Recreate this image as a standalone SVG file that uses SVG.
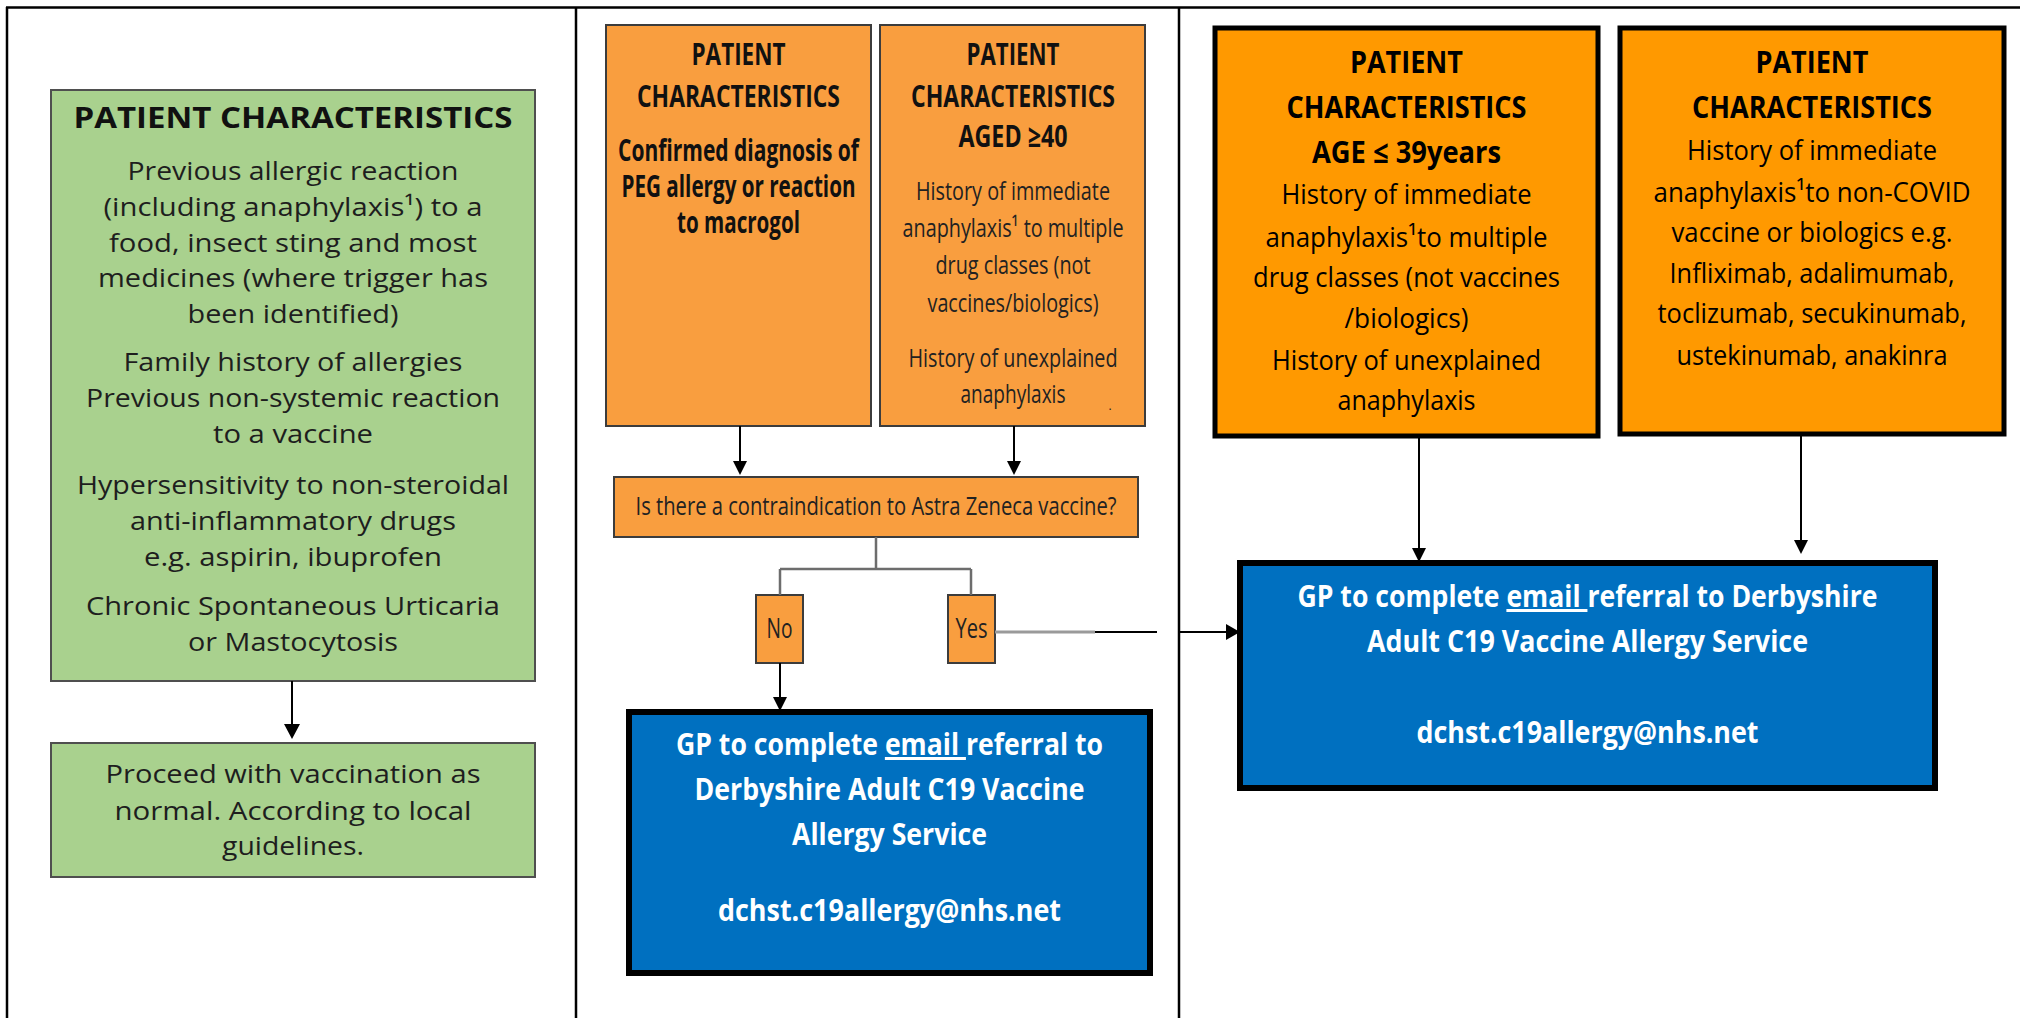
<svg xmlns="http://www.w3.org/2000/svg" width="2020" height="1018" viewBox="0 0 2020 1018">
<style>
text{font-family:"Open Sans","Noto Sans","DejaVu Sans",sans-serif;text-anchor:middle}
.g{font-size:26px;fill:#1e1e1e}
.gt{font-size:29px;font-weight:bold;fill:#111}
.ob{font-size:30px;font-weight:bold;fill:#111}
.or{font-size:26px;fill:#222}
.cb{font-size:30px;font-weight:bold;fill:#000}
.cr{font-size:28px;fill:#000}
.w{font-size:30px;font-weight:bold;fill:#fff}
.frame{stroke:#000;stroke-width:2.5;fill:none}
.green{fill:#a9d18e;stroke:#4f4f4f;stroke-width:2}
.org{fill:#f99e3f;stroke:#3c3c3c;stroke-width:2}
.org2{fill:#ff9900;stroke:#000;stroke-width:5}
.blue{fill:#0070c0;stroke:#000;stroke-width:6}
.ln{stroke:#000;stroke-width:2;fill:none}
.gl{stroke:#6d6d6d;stroke-width:2.5;fill:none}
</style>
<rect width="2020" height="1018" fill="#fff"/>
<g id="frame">
<path class="frame" d="M6 7.5H2020M7 7V1018M576 7V1018M1179 7V1018"/>
</g>
<g id="green1">
<rect class="green" x="51" y="90" width="484" height="591"/>
<text class="gt" x="293" y="128" textLength="439" lengthAdjust="spacingAndGlyphs">PATIENT CHARACTERISTICS</text>
<text class="g" x="293" y="180" textLength="331" lengthAdjust="spacingAndGlyphs">Previous allergic reaction</text>
<text class="g" x="293" y="216" textLength="379" lengthAdjust="spacingAndGlyphs">(including anaphylaxis¹) to a</text>
<text class="g" x="293" y="252" textLength="368" lengthAdjust="spacingAndGlyphs">food, insect sting and most</text>
<text class="g" x="293" y="287" textLength="390" lengthAdjust="spacingAndGlyphs">medicines (where trigger has</text>
<text class="g" x="293" y="323" textLength="211" lengthAdjust="spacingAndGlyphs">been identified)</text>
<text class="g" x="293" y="371" textLength="339" lengthAdjust="spacingAndGlyphs">Family history of allergies</text>
<text class="g" x="293" y="407" textLength="414" lengthAdjust="spacingAndGlyphs">Previous non-systemic reaction</text>
<text class="g" x="293" y="443" textLength="160" lengthAdjust="spacingAndGlyphs">to a vaccine</text>
<text class="g" x="293" y="494" textLength="432" lengthAdjust="spacingAndGlyphs">Hypersensitivity to non-steroidal</text>
<text class="g" x="293" y="530" textLength="326" lengthAdjust="spacingAndGlyphs">anti-inflammatory drugs</text>
<text class="g" x="293" y="566" textLength="298" lengthAdjust="spacingAndGlyphs">e.g. aspirin, ibuprofen</text>
<text class="g" x="293" y="615" textLength="414" lengthAdjust="spacingAndGlyphs">Chronic Spontaneous Urticaria</text>
<text class="g" x="293" y="651" textLength="210" lengthAdjust="spacingAndGlyphs">or Mastocytosis</text>
</g>
<g id="green2">
<rect class="green" x="51" y="743" width="484" height="134"/>
<text class="g" x="293" y="783" textLength="375" lengthAdjust="spacingAndGlyphs">Proceed with vaccination as</text>
<text class="g" x="293" y="820" textLength="357" lengthAdjust="spacingAndGlyphs">normal. According to local</text>
<text class="g" x="293" y="855" textLength="142" lengthAdjust="spacingAndGlyphs">guidelines.</text>
</g>
<g id="orangeA">
<rect class="org" x="606" y="25" width="265" height="401"/>
<text class="ob" x="738.5" y="65" textLength="94" lengthAdjust="spacingAndGlyphs">PATIENT</text>
<text class="ob" x="738.5" y="107" textLength="203" lengthAdjust="spacingAndGlyphs">CHARACTERISTICS</text>
<text class="ob" x="738.5" y="161" textLength="241" lengthAdjust="spacingAndGlyphs">Confirmed diagnosis of</text>
<text class="ob" x="738.5" y="197" textLength="234" lengthAdjust="spacingAndGlyphs">PEG allergy or reaction</text>
<text class="ob" x="738.5" y="233" textLength="123" lengthAdjust="spacingAndGlyphs">to macrogol</text>
</g>
<g id="orangeB">
<rect class="org" x="880" y="25" width="265" height="401"/>
<text class="ob" x="1013" y="65" textLength="93" lengthAdjust="spacingAndGlyphs">PATIENT</text>
<text class="ob" x="1013" y="107" textLength="204" lengthAdjust="spacingAndGlyphs">CHARACTERISTICS</text>
<text class="ob" x="1013" y="147" textLength="109" lengthAdjust="spacingAndGlyphs">AGED ≥40</text>
<text class="or" x="1013" y="200" textLength="194" lengthAdjust="spacingAndGlyphs">History of immediate</text>
<text class="or" x="1013" y="237" textLength="221" lengthAdjust="spacingAndGlyphs">anaphylaxis¹ to multiple</text>
<text class="or" x="1013" y="274" textLength="155" lengthAdjust="spacingAndGlyphs">drug classes (not</text>
<text class="or" x="1013" y="312" textLength="171" lengthAdjust="spacingAndGlyphs">vaccines/biologics)</text>
<text class="or" x="1013" y="367" textLength="209" lengthAdjust="spacingAndGlyphs">History of unexplained</text>
<text class="or" x="1013" y="403" textLength="105" lengthAdjust="spacingAndGlyphs">anaphylaxis</text>
<text class="or" x="1110" y="410" style="font-size:12px">.</text>
</g>
<g id="question">
<rect class="org" x="614" y="477" width="524" height="60"/>
<text class="or" x="876" y="515" textLength="481" lengthAdjust="spacingAndGlyphs">Is there a contraindication to Astra Zeneca vaccine?</text>
</g>
<g id="no">
<rect class="org" x="756" y="595" width="47" height="68"/>
<text class="or" x="779.5" y="638" style="font-size:27px" textLength="26" lengthAdjust="spacingAndGlyphs">No</text>
</g>
<g id="yes">
<rect class="org" x="948" y="595" width="47" height="68"/>
<text class="or" x="971.5" y="638" style="font-size:27px" textLength="32" lengthAdjust="spacingAndGlyphs">Yes</text>
</g>
<g id="blueMid">
<rect class="blue" x="629" y="712" width="521" height="261"/>
<text class="w" x="889.5" y="755" textLength="427" lengthAdjust="spacingAndGlyphs">GP to complete <tspan text-decoration="underline">email </tspan>referral to</text>
<text class="w" x="889.5" y="800" textLength="390" lengthAdjust="spacingAndGlyphs">Derbyshire Adult C19 Vaccine</text>
<text class="w" x="889.5" y="845" textLength="195" lengthAdjust="spacingAndGlyphs">Allergy Service</text>
<text class="w" x="889.5" y="921" textLength="343" lengthAdjust="spacingAndGlyphs">dchst.c19allergy@nhs.net</text>
</g>
<g id="orangeC">
<rect class="org2" x="1215" y="28" width="383" height="408"/>
<text class="cb" x="1406.5" y="73" textLength="113" lengthAdjust="spacingAndGlyphs">PATIENT</text>
<text class="cb" x="1406.5" y="118" textLength="240" lengthAdjust="spacingAndGlyphs">CHARACTERISTICS</text>
<text class="cb" x="1406.5" y="163" textLength="189" lengthAdjust="spacingAndGlyphs">AGE ≤ 39years</text>
<text class="cr" x="1406.5" y="204" textLength="250" lengthAdjust="spacingAndGlyphs">History of immediate</text>
<text class="cr" x="1406.5" y="247" textLength="282" lengthAdjust="spacingAndGlyphs">anaphylaxis¹to multiple</text>
<text class="cr" x="1406.5" y="287" textLength="307" lengthAdjust="spacingAndGlyphs">drug classes (not vaccines</text>
<text class="cr" x="1406.5" y="328" textLength="124" lengthAdjust="spacingAndGlyphs">/biologics)</text>
<text class="cr" x="1406.5" y="370" textLength="269" lengthAdjust="spacingAndGlyphs">History of unexplained</text>
<text class="cr" x="1406.5" y="410" textLength="138" lengthAdjust="spacingAndGlyphs">anaphylaxis</text>
</g>
<g id="orangeD">
<rect class="org2" x="1620" y="28" width="384" height="406"/>
<text class="cb" x="1812" y="73" textLength="113" lengthAdjust="spacingAndGlyphs">PATIENT</text>
<text class="cb" x="1812" y="118" textLength="240" lengthAdjust="spacingAndGlyphs">CHARACTERISTICS</text>
<text class="cr" x="1812" y="160" textLength="250" lengthAdjust="spacingAndGlyphs">History of immediate</text>
<text class="cr" x="1812" y="202" textLength="317" lengthAdjust="spacingAndGlyphs">anaphylaxis¹to non-COVID</text>
<text class="cr" x="1812" y="242" textLength="281" lengthAdjust="spacingAndGlyphs">vaccine or biologics e.g.</text>
<text class="cr" x="1812" y="283" textLength="285" lengthAdjust="spacingAndGlyphs">Infliximab, adalimumab,</text>
<text class="cr" x="1812" y="323" textLength="309" lengthAdjust="spacingAndGlyphs">toclizumab, secukinumab,</text>
<text class="cr" x="1812" y="365" textLength="271" lengthAdjust="spacingAndGlyphs">ustekinumab, anakinra</text>
</g>
<g id="blueRight">
<rect class="blue" x="1240" y="563" width="695" height="225"/>
<text class="w" x="1587.5" y="607" textLength="580" lengthAdjust="spacingAndGlyphs">GP to complete <tspan text-decoration="underline">email </tspan>referral to Derbyshire</text>
<text class="w" x="1587.5" y="652" textLength="441" lengthAdjust="spacingAndGlyphs">Adult C19 Vaccine Allergy Service</text>
<text class="w" x="1587.5" y="743" textLength="342" lengthAdjust="spacingAndGlyphs">dchst.c19allergy@nhs.net</text>
</g>
<g id="connectors">
<path class="ln" d="M292 681V725"/>
<polygon points="284,724 300,724 292,739"/>
<path class="ln" d="M740 426V463"/>
<polygon points="733,461 747,461 740,475"/>
<path class="ln" d="M1014 426V463"/>
<polygon points="1007,461 1021,461 1014,475"/>
<path class="gl" d="M876 537V569M780 569H971M780 569V595M971 569V595"/>
<path class="ln" d="M780 663V699"/>
<polygon points="773,697 787,697 780,711"/>
<path d="M995 632H1095" stroke="#9a9a9a" stroke-width="3"/>
<path class="ln" d="M1095 632H1157M1179 632H1228"/>
<polygon points="1226,624 1226,640 1240,632"/>
<path class="ln" d="M1419 436V550"/>
<polygon points="1412,548 1426,548 1419,562"/>
<path class="ln" d="M1801 434V542"/>
<polygon points="1794,540 1808,540 1801,554"/>
</g>
</svg>
